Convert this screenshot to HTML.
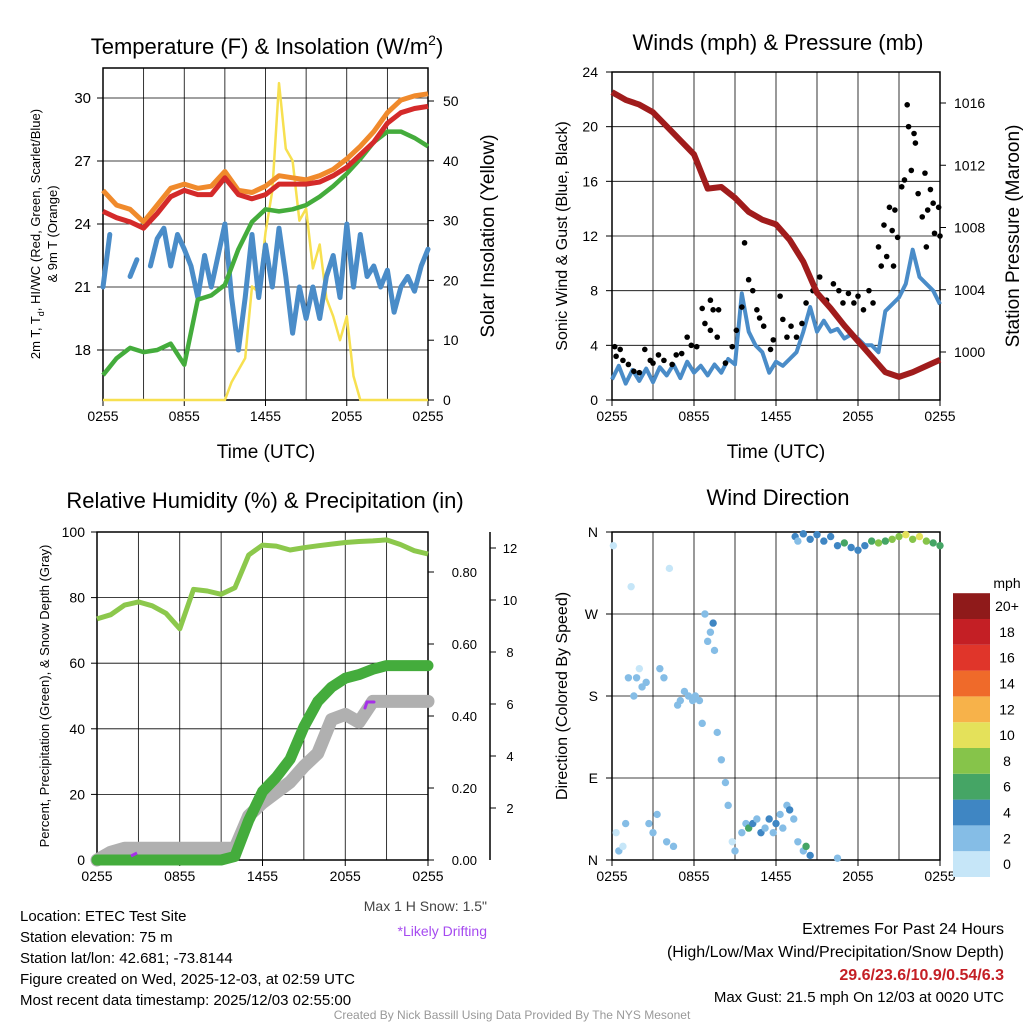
<!DOCTYPE html>
<html><head><meta charset="utf-8">
<style>
html,body{margin:0;padding:0;background:#fff;}
svg{display:block;font-family:"Liberation Sans",sans-serif;}
</style></head>
<body>
<svg id="chart" width="1024" height="1024" viewBox="0 0 1024 1024" xmlns="http://www.w3.org/2000/svg">
<rect width="1024" height="1024" fill="#fff"/>
<g id="layer"></g>
</svg>
<script>
// ---------- DATA ----------
const tempTicks = [18,21,24,27,30];
const insolTicks = [0,10,20,30,40,50];
const timeLabels = ["0255","0855","1455","2055","0255"];
// 2m temperature (red), hourly
const tempRed = [24.6,24.3,24.1,23.8,24.5,25.3,25.6,25.4,25.4,26.2,25.4,25.2,25.4,25.9,25.9,25.9,26.0,26.3,26.7,27.3,27.9,28.8,29.3,29.5,29.6];
// 9m temperature (orange)
const tempOrange = [25.6,24.9,24.7,24.1,24.9,25.7,25.9,25.7,25.8,26.5,25.6,25.5,25.8,26.3,26.2,26.1,26.3,26.6,27.1,27.7,28.4,29.3,29.9,30.1,30.2];
// dew point (green)
const dewGreen = [16.8,17.6,18.1,17.9,18.0,18.3,17.3,20.4,20.6,21.1,22.8,24.1,24.7,24.6,24.7,24.9,25.3,25.8,26.4,27.1,27.9,28.4,28.4,28.1,27.7];
// HI / wind chill (blue), every 0.5 h (null = missing)
const wcBlue = [21,23.5,null,null,21.5,22.3,null,22,23.3,23.8,22,23.5,22.8,22,20.5,22.5,21,22.5,24,20.5,18,20.5,23.5,20.5,23,21,23.8,21.5,18.8,21,19.5,21,19.5,21.5,22.5,20.5,24,21,23.5,21.5,22,21,21.8,19.8,21,21.5,20.8,22,22.8];
// solar insolation (yellow), every 0.5 h
const insol = [0,0,0,0,0,0,0,0,0,0,0,0,0,0,0,0,0,0,0,3,5,7,19,18,28,35,53,42,40,30,32,22,26,17,14,10,14,4,0,0,0,0,0,0,0,0,0,0,0];

const windTicks = [0,4,8,12,16,20,24];
const presTicks = [1000,1004,1008,1012,1016];
// pressure (mb), hourly
const pressure = [1016.7,1016.2,1015.9,1015.4,1014.5,1013.6,1012.7,1010.5,1010.6,1009.9,1009.0,1008.5,1008.2,1007.2,1005.8,1003.8,1002.8,1001.7,1000.7,999.7,998.7,998.4,998.7,999.1,999.5];
// sonic wind (mph), every 0.5 h
const windSpd = [1.5,2.5,1.2,2.2,1.4,2.3,1.3,2.4,1.8,2.6,1.6,2.8,2.0,2.5,1.8,2.6,2.0,3.0,2.6,7.8,5.0,4.0,3.5,2.0,2.8,2.5,3.0,3.5,5.0,6.8,5.0,5.8,5.0,5.2,4.5,4.8,4.5,4.0,4.0,3.5,6.5,7.0,7.5,8.5,11.0,9.0,8.5,8.0,7.0];
// gust observations: time (h since 0255) and speed (mph)
const gustTime = [0.2,0.3,0.6,0.8,1.2,1.6,2.0,2.4,2.8,3.0,3.4,3.8,4.4,4.7,5.1,5.5,5.8,6.2,6.6,6.8,7.2,7.4,7.8,7.2,7.7,8.3,8.8,9.1,9.5,9.7,10.0,10.3,10.6,10.8,11.1,11.6,11.8,12.3,12.5,12.8,13.1,13.5,13.9,14.2,14.7,15.2,15.7,16.2,16.6,16.9,17.3,17.7,18.0,18.4,18.8,19.1,19.5,19.7,19.9,20.1,20.3,20.5,20.6,20.7,20.9,21.2,21.4,21.6,21.7,21.9,22.1,22.2,22.4,22.7,22.9,23.0,23.1,23.3,23.5,23.6,23.9,24.0];
const gustVal = [3.9,3.2,3.7,2.9,2.6,2.1,2.0,3.7,2.9,2.7,3.3,2.9,2.6,3.3,3.4,4.6,4.0,3.9,6.7,5.6,7.3,6.6,6.6,5.1,4.6,2.7,3.9,5.1,6.8,11.5,8.8,8.0,6.6,6.0,5.4,3.7,4.4,7.6,5.9,4.6,5.4,4.6,5.6,7.1,8.0,9.0,7.3,8.5,8.0,7.1,7.8,7.1,7.6,6.6,8.0,7.1,11.2,9.8,12.8,10.5,14.1,12.4,9.8,13.9,11.9,15.6,16.1,21.6,20.0,16.8,19.5,18.8,15.1,13.4,16.6,11.2,13.9,15.4,14.4,12.2,14.1,12.0];

const rhTicks = [0,20,40,60,80,100];
const precipTicks = ["0.00","0.20","0.40","0.60","0.80"];
const snowTicks = [2,4,6,8,10,12];
// relative humidity, hourly
const rh = [73.5,74.8,77.7,78.7,77.5,75.2,70.5,82.5,82,81,83,93,96,95.7,94.5,95.2,95.8,96.3,96.8,97.1,97.3,97.6,96.2,94.3,93.3];
// accumulated precip (in), hourly
const precip = [0,0,0,0,0,0,0,0,0,0,0.01,0.11,0.19,0.23,0.28,0.37,0.44,0.48,0.505,0.515,0.53,0.54,0.54,0.54,0.54];
// snow depth (in), hourly
const snow = [0,0.3,0.45,0.45,0.45,0.45,0.45,0.45,0.45,0.45,0.45,1.7,2.2,2.6,3.0,3.6,4.1,5.4,5.6,5.3,6.1,6.1,6.1,6.1,6.1];

const dirLabels = ["N","E","S","W","N"];
const dirTime = [0.1,0.3,0.5,0.8,1.0,1.2,1.4,1.6,1.8,2.0,2.2,2.5,2.7,3.0,3.3,3.5,3.8,4.0,4.2,4.5,4.8,5.0,5.3,5.6,5.9,6.1,6.4,6.6,6.8,7.0,7.2,7.4,7.5,7.7,8.0,8.3,8.5,8.8,9.0,9.5,9.8,10.0,10.3,10.6,10.9,11.2,11.5,11.8,12.0,12.3,12.5,12.8,13.0,13.3,13.6,14.0,14.2,14.5,16.5,13.4,13.6,14.0,14.5,15.0,15.5,16.0,16.5,17.0,17.5,18.0,18.5,19.0,19.5,20.0,20.5,21.0,21.5,22.0,22.5,23.0,23.5,24.0];
const dirDeg = [345,30,10,15,40,200,300,180,200,210,190,195,40,30,50,210,200,20,320,15,170,175,185,180,175,180,175,150,270,240,250,260,230,140,110,85,60,20,10,30,40,35,40,45,30,35,45,30,40,50,35,60,55,45,20,10,15,5,2,355,350,358,352,357,350,355,345,348,343,340,345,350,348,350,352,355,357,352,355,350,348,345];
const dirSpd = [1,1,2,1,2,2,1,2,2,1,2,2,3,2,2,2,2,2,1,2,2,2,2,3,2,3,2,2,2,2,3,4,3,2,2,3,3,1,2,2,3,6,4,3,4,3,4,3,4,3,2,3,4,2,3,3,6,4,3,4,3,4,5,4,4,5,4,6,4,4,5,6,8,7,8,9,10,9,10,8,7,6];

const cbLabels = ["0","2","4","6","8","10","12","14","16","18","20+"];
const cbColors = ["#c6e6f8","#85bde6","#3f86c3","#45a565","#86c44a","#e4e15a","#f7b24a","#ef6a2a","#e0352a","#c41f25","#8f1a1a"];

// ---------- HELPERS ----------
const NS = "http://www.w3.org/2000/svg";
const layer = document.getElementById("layer");
function el(tag, attrs, parent) {
  const e = document.createElementNS(NS, tag);
  for (const k in attrs) e.setAttribute(k, attrs[k]);
  (parent || layer).appendChild(e);
  return e;
}
function txt(s, x, y, size, anchor, parent, rot, fill) {
  const t = el("text", {x:x, y:y, "font-size":size, "text-anchor":anchor||"middle", fill:fill||"#000"}, parent);
  if (rot) t.setAttribute("transform", "rotate(" + rot + " " + x + " " + y + ")");
  t.textContent = s;
  return t;
}
function lin(d0, d1, r0, r1) { return v => r0 + (v - d0) * (r1 - r0) / (d1 - d0); }
function pathFrom(vals, xs, ys) {
  const n = vals.length;
  let d = "", pen = false;
  vals.forEach((v, i) => {
    if (v === null) { pen = false; return; }
    d += (pen ? "L" : "M") + xs(i * 24 / (n - 1)).toFixed(1) + "," + ys(v).toFixed(1) + " ";
    pen = true;
  });
  return d;
}
function frame(g, x0, x1, y0, y1, hTicksY, xs) {
  hTicksY.forEach(y => el("line", {x1:x0, x2:x1, y1:y, y2:y, stroke:"#000", "stroke-width":0.8}, g));
  [3,6,9,12,15,18,21].forEach(h => { const x = xs(h); el("line", {x1:x, x2:x, y1:y0, y2:y1, stroke:"#000", "stroke-width":0.8}, g); });
  el("rect", {x:x0, y:y0, width:x1-x0, height:y1-y0, fill:"none", stroke:"#000", "stroke-width":1.5}, g);
}
function xaxis(g, xs, yb) {
  timeLabels.forEach((l, i) => {
    const x = xs(i * 6);
    el("line", {x1:x, x2:x, y1:yb, y2:yb+6, stroke:"#000", "stroke-width":1}, g);
    txt(l, x, yb + 21, 14, "middle", g);
  });
}

// ---------- PANEL 1: TEMPERATURE ----------
(function(){
  const g = el("g", {});
  
  
  const X0=103, X1=428, Y0=68, Y1=400;
  const xs = lin(0,24,X0,X1), yT = lin(24,30,224,98), yI = lin(0,50,400,101);
  frame(g, X0, X1, Y0, Y1, tempTicks.map(yT), xs);
  xaxis(g, xs, Y1);
  tempTicks.forEach(v => { el("line",{x1:X0-6,x2:X0,y1:yT(v),y2:yT(v),stroke:"#000"},g); txt(String(v), X0-12, yT(v)+5, 15, "end", g); });
  insolTicks.forEach(v => { el("line",{x1:X1,x2:X1+6,y1:yI(v),y2:yI(v),stroke:"#000"},g); txt(String(v), X1+15, yI(v)+5, 14, "start", g); });
  const ins = el("path", {d:pathFrom(insol,xs,yI), fill:"none", stroke:"#f7e050", "stroke-width":2.5, "stroke-linejoin":"round"}, g);
   
  const bl = el("path", {d:pathFrom(wcBlue,xs,yT), fill:"none", stroke:"#4a8cc8", "stroke-width":5, "stroke-linejoin":"round", "stroke-linecap":"round"}, g);
   
  const gr = el("path", {d:pathFrom(dewGreen,xs,yT), fill:"none", stroke:"#44ac3c", "stroke-width":4.5, "stroke-linejoin":"round"}, g);
   
  const or = el("path", {d:pathFrom(tempOrange,xs,yT), fill:"none", stroke:"#f08a2c", "stroke-width":5, "stroke-linejoin":"round"}, g);
   
  const rd = el("path", {d:pathFrom(tempRed,xs,yT), fill:"none", stroke:"#d42a2a", "stroke-width":5, "stroke-linejoin":"round"}, g);
   
  const t1 = el("text", {x:267, y:54, "font-size":22, "text-anchor":"middle"}, g);
   
  t1.innerHTML = 'Temperature (F) &amp; Insolation (W/m<tspan dy="-9" font-size="14">2</tspan><tspan dy="9">)</tspan>';
  txt("Time (UTC)", 266, 458, 19, "middle", g);
  const yt = el("text", {x:40, y:234, "font-size":13, "text-anchor":"middle", transform:"rotate(-90 40 234)"}, g);
  yt.innerHTML = '2m T, T<tspan dy="4" font-size="9">d</tspan><tspan dy="-4">, HI/WC (Red, Green, Scarlet/Blue)</tspan>';
  txt("& 9m T (Orange)", 57, 234, 13, "middle", g, -90);
  txt("Solar Insolation (Yellow)", 494, 236, 19, "middle", g, -90);
})();

// ---------- PANEL 2: WINDS ----------
(function(){
  const g = el("g", {});
  
  
  const X0=612, X1=940, Y0=72, Y1=400;
  const xs = lin(0,24,X0,X1), yW = lin(0,24,400,72), yP = lin(1000,1016,352,103);
  frame(g, X0, X1, Y0, Y1, windTicks.map(yW), xs);
  xaxis(g, xs, Y1);
  windTicks.forEach(v => { el("line",{x1:X0-6,x2:X0,y1:yW(v),y2:yW(v),stroke:"#000"},g); txt(String(v), X0-14, yW(v)+5, 14, "end", g); });
  presTicks.forEach(v => { el("line",{x1:X1,x2:X1+6,y1:yP(v),y2:yP(v),stroke:"#000"},g); txt(String(v), X1+14, yP(v)+5, 14, "start", g); });
  const w = el("path", {d:pathFrom(windSpd,xs,yW), fill:"none", stroke:"#4a8cc8", "stroke-width":4, "stroke-linejoin":"round"}, g);
   
  gustTime.forEach((t,i) => {
    const c = el("circle", {cx:xs(t), cy:yW(gustVal[i]), r:2.8, fill:"#000"}, g);
    
    
  });
  const p = el("path", {d:pathFrom(pressure,xs,yP), fill:"none", stroke:"#a01c1c", "stroke-width":6, "stroke-linejoin":"round"}, g);
   
  const t = txt("Winds (mph) & Pressure (mb)", 778, 50, 22, "middle", g);
   
  txt("Time (UTC)", 776, 458, 19, "middle", g);
  txt("Sonic Wind & Gust (Blue, Black)", 567, 236, 16, "middle", g, -90);
  txt("Station Pressure (Maroon)", 1019, 236, 19, "middle", g, -90);
})();

// ---------- PANEL 3: RH & PRECIP ----------
(function(){
  const g = el("g", {});
  
  
  const X0=97, X1=428, Y0=532, Y1=860;
  const xs = lin(0,24,X0,X1), yR = lin(0,100,860,532), yPr = lin(0,0.8,860,572), yS = lin(0,12,860,548);
  frame(g, X0, X1, Y0, Y1, rhTicks.map(yR), xs);
  xaxis(g, xs, Y1);
  rhTicks.forEach(v => { el("line",{x1:X0-6,x2:X0,y1:yR(v),y2:yR(v),stroke:"#000"},g); txt(String(v), X0-12, yR(v)+5, 14, "end", g); });
  el("line", {x1:490,x2:490,y1:532,y2:860,stroke:"#000","stroke-width":1.5}, g);
  precipTicks.forEach((l,i) => { const y=yPr(i*0.2); el("line",{x1:428,x2:434,y1:y,y2:y,stroke:"#000"},g); txt(l, 477, y+5, 13, "end", g); });
  snowTicks.forEach(v => { const y=yS(v); el("line",{x1:490,x2:496,y1:y,y2:y,stroke:"#000"},g); txt(String(v), 510, y+5, 13, "middle", g); });
  const s = el("path", {d:pathFrom(snow,xs,yS), fill:"none", stroke:"#b0b0b0", "stroke-width":13, "stroke-linejoin":"round", "stroke-linecap":"round"}, g);
   
  const pr = el("path", {d:pathFrom(precip,xs,yPr), fill:"none", stroke:"#44ac3c", "stroke-width":11, "stroke-linejoin":"round", "stroke-linecap":"round"}, g);
   
  const r = el("path", {d:pathFrom(rh,xs,yR), fill:"none", stroke:"#8cc84c", "stroke-width":5, "stroke-linejoin":"round"}, g);
   
  const d1 = el("path", {d:"M131,856 L137,853", stroke:"#a630e8", "stroke-width":3, fill:"none"}, g);
   
  const d2 = el("path", {d:"M365,708 L367,702 L374,702", stroke:"#a630e8", "stroke-width":3, fill:"none", "stroke-linecap":"round"}, g);
   
  const t = txt("Relative Humidity (%) & Precipitation (in)", 265, 508, 22, "middle", g);
   
  txt("Percent, Precipitation (Green), & Snow Depth (Gray)", 49, 696, 13, "middle", g, -90);
  txt('Max 1 H Snow: 1.5"', 487, 911, 14, "end", g, 0, "#444");
  txt("*Likely Drifting", 487, 936, 14, "end", g, 0, "#a64bf0");
})();

// ---------- PANEL 4: WIND DIRECTION ----------
(function(){
  const g = el("g", {});
  
  
  const X0=612, X1=940, Y0=532, Y1=860;
  const xs = lin(0,24,X0,X1), yD = lin(0,360,860,532);
  frame(g, X0, X1, Y0, Y1, [0,90,180,270,360].map(yD), xs);
  xaxis(g, xs, Y1);
  dirLabels.forEach((l,i) => { const y=yD(i*90); el("line",{x1:X0-6,x2:X0,y1:y,y2:y,stroke:"#000"},g); txt(l, X0-14, y+5, 14, "end", g); });
  const spdColor = v => cbColors[Math.min(10, Math.floor(v/2))];
  dirTime.forEach((t,i) => {
    const c = el("circle", {cx:xs(t), cy:yD(dirDeg[i]), r:3.7, fill:spdColor(dirSpd[i])}, g);
    
    
  });
  const t = txt("Wind Direction", 778, 505, 22, "middle", g);
   
  txt("Direction (Colored By Speed)", 567, 696, 16, "middle", g, -90);
  const cb = el("g", {}, g);
  
  
  txt("mph", 1007, 588, 14, "middle", cb);
  const h = 25.8;
  cbColors.forEach((c,i) => {
    const y = 877 - (i+1)*h;
    el("rect", {x:953, y:y, width:37, height:h, fill:c}, cb);
    txt(cbLabels[i], 1007, y + h/2 + 5, 14, "middle", cb);
  });
})();

// ---------- FOOTER TEXT ----------
(function(){
  const g = el("g", {});
  
  
  ["Location: ETEC Test Site","Station elevation: 75 m","Station lat/lon: 42.681; -73.8144","Figure created on Wed, 2025-12-03, at 02:59 UTC","Most recent data timestamp: 2025/12/03 02:55:00"]
    .forEach((s,i) => txt(s, 20, 921 + i*21, 15, "start", g));
  const r = el("g", {});
  
  
  txt("Extremes For Past 24 Hours", 1004, 934, 16, "end", r);
  txt("(High/Low/Max Wind/Precipitation/Snow Depth)", 1004, 957, 16, "end", r);
  const e = txt("29.6/23.6/10.9/0.54/6.3", 1004, 980, 16, "end", r, 0, "#c41f25");
  e.setAttribute("font-weight", "bold");
  txt("Max Gust: 21.5 mph On 12/03 at 0020 UTC", 1004, 1002, 15, "end", r);
  txt("Created By Nick Bassill Using Data Provided By The NYS Mesonet", 512, 1019, 12, "middle", layer, 0, "#999");
})();
</script>
</body></html>
